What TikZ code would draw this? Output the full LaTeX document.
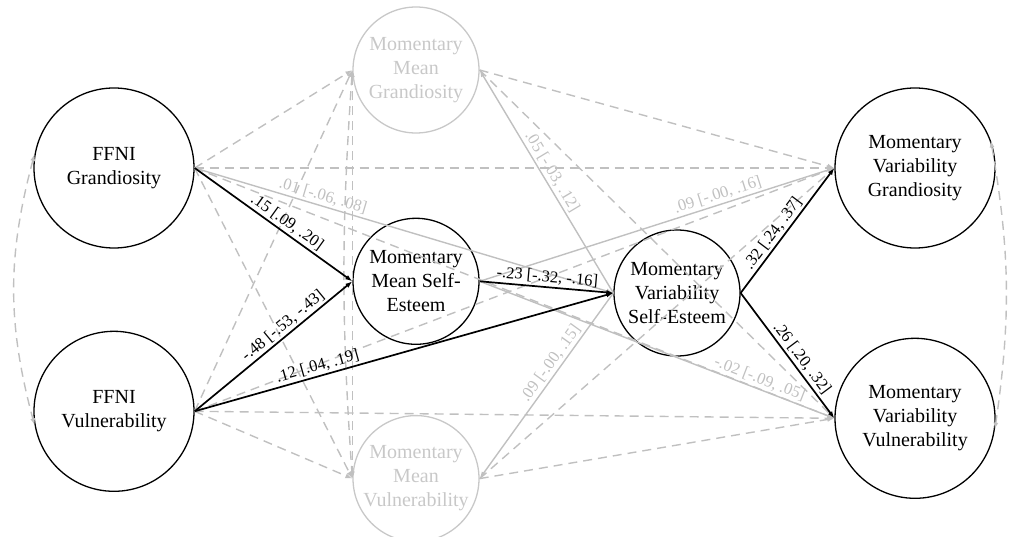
\documentclass[tikz,border=0pt]{standalone}
\usepackage{fontspec}
\setmainfont{Liberation Serif}
\usetikzlibrary{arrows.meta,positioning}

\definecolor{faint}{RGB}{200,200,200}
\definecolor{faintline}{RGB}{192,192,192}

\begin{document}
\begin{tikzpicture}[
  x=1pt, y=-1pt,
  node distance=80pt,
  lat/.style={draw, circle, line width=1.3pt, align=center, inner sep=0pt,
              font=\fontsize{20}{24}\selectfont},
  ffni/.style={lat, minimum size=160pt},
  mom/.style={lat, minimum size=126pt},
  faded/.style={draw=faint, text=faint},
  sig/.style={-{Latex[length=7pt,width=5pt]}, line width=1.7pt},
  ns/.style={-{Latex[length=7pt,width=5pt]}, line width=1.4pt, draw=faintline},
  nsdash/.style={ns, dash pattern=on 9pt off 6pt},
  cov/.style={nsdash, {Latex[length=7pt,width=5pt]}-{Latex[length=7pt,width=5pt]}},
  est/.style={sloped, above, inner sep=2pt, font=\fontsize{16.5}{19}\selectfont},
  nsest/.style={est, text=faintline}
]
\useasboundingbox (0,0) rectangle (1011,537);

% latent variables
\node[ffni] (fg) at (114,168) {FFNI\\Grandiosity};
\node[ffni, below=82pt of fg] (fv) {FFNI\\Vulnerability};
\node[mom, faded] (mmg) at (416,70) {Momentary\\Mean\\Grandiosity};
\node[mom, below=84pt of mmg] (mmse) {Momentary\\Mean Self-\\Esteem};
\node[mom, faded, below=70pt of mmse] (mmv) {Momentary\\Mean\\Vulnerability};
\node[mom] (mvse) at (677,293) {Momentary\\Variability\\Self-Esteem};
\node[ffni] (mvg) at (915,168) {Momentary\\Variability\\Grandiosity};
\node[ffni, below=89pt of mvg] (mvv) {Momentary\\Variability\\Vulnerability};

% controlled paths (dashed)
\draw[nsdash] (fg.east) -- (mmg.west);
\draw[nsdash] (fg.east) -- (mmv.west);
\draw[nsdash] (fv.east) -- (mmg.west);
\draw[nsdash] (fv.east) -- (mmv.west);
\draw[nsdash] (fg.east) -- (mvg.west);
\draw[nsdash] (fg.east) -- (mvv.west);
\draw[nsdash] (fv.east) -- (mvg.west);
\draw[nsdash] (fv.east) -- (mvv.west);
\draw[nsdash] (mmg.east) -- (mvg.west);
\draw[nsdash] (mmg.east) -- (mvv.west);
\draw[nsdash] (mmv.east) -- (mvg.west);
\draw[nsdash] (mmv.east) -- (mvv.west);
\draw[cov] (mmg.west) -- (mmv.west);
\draw[cov] (mmg.west) to[bend right=4] (mmv.west);
\draw[cov] (fg.170) to[bend right=15] (fv.190);
\draw[cov] (mvg.20) to[bend left=9] (mvv.-8);

% non-significant paths
\draw[ns] (fg.east) -- node[nsest, pos=0.3]{.01 [-.06, .08]} (mvse.west);
\draw[ns] (mmse.east) -- node[nsest, pos=0.68]{.09 [-.00, .16]} (mvg.west);
\draw[ns] (mmse.east) -- node[nsest, pos=0.78]{-.02 [-.09, .05]} (mvv.west);
\draw[ns] (mvse.west) -- node[nsest, pos=0.52]{.05 [-.03, .12]} (mmg.east);
\draw[ns] (mvse.west) -- node[nsest, pos=0.41]{.09 [-.00, .15]} (mmv.east);

% significant paths
\draw[sig] (fg.east) -- node[est, pos=0.55]{.15 [.09, .20]} (mmse.west);
\draw[sig] (fv.east) -- node[est, pos=0.6]{-.48 [-.53, -.43]} (mmse.west);
\draw[sig] (fv.east) -- node[est, pos=0.3]{.12 [.04, .19]} (mvse.west);
\draw[sig] (mmse.east) -- node[est]{-.23 [-.32, -.16]} (mvse.west);
\draw[sig] (mvse.east) -- node[est, pos=0.43]{.32 [.24, .37]} (mvg.west);
\draw[sig] (mvse.east) -- node[est, pos=0.57]{.26 [.20, .32]} (mvv.west);
\end{tikzpicture}
\end{document}
